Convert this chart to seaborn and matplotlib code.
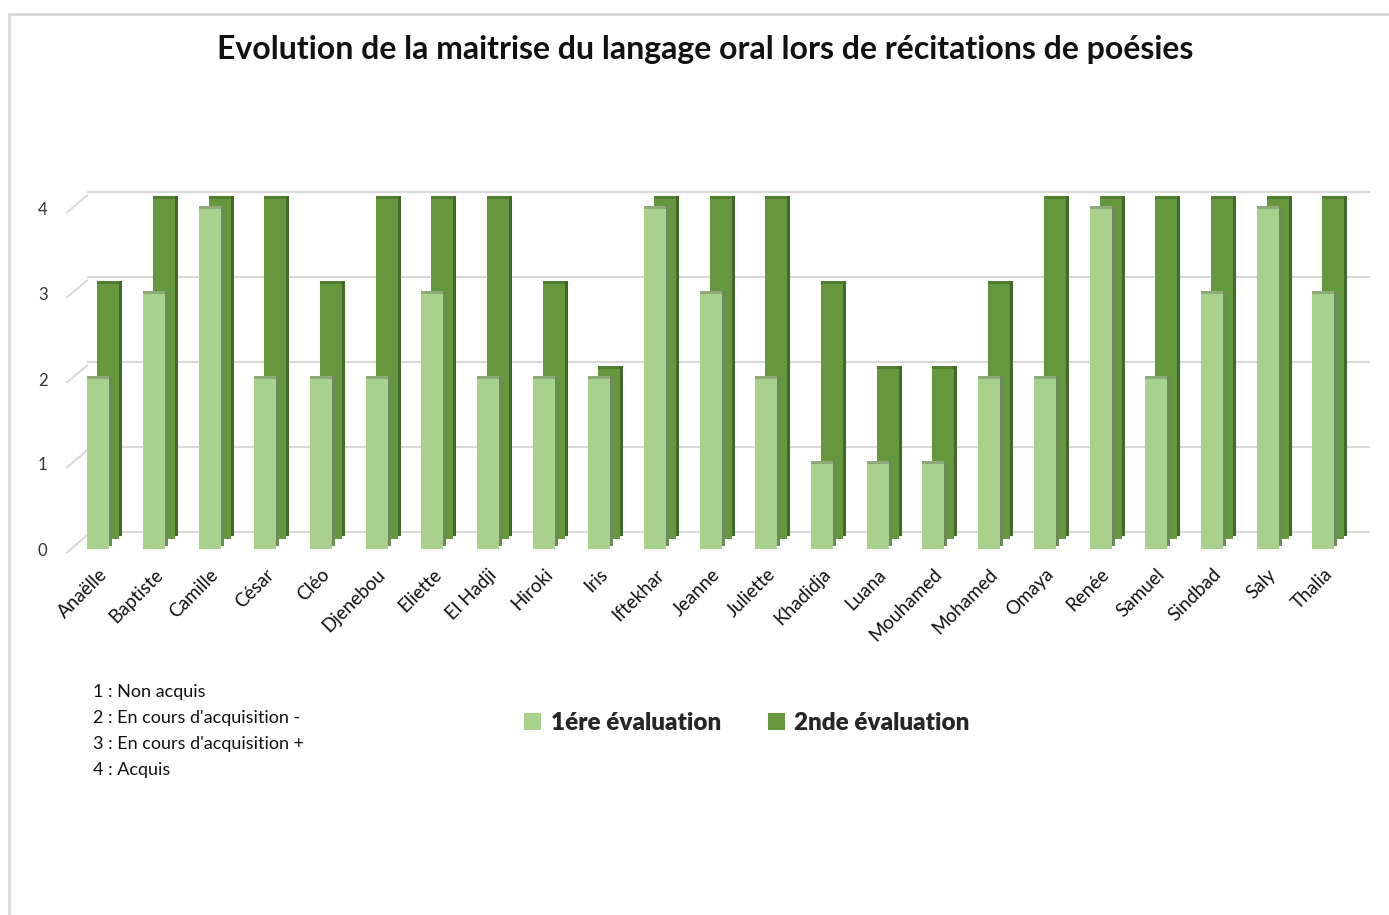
import numpy as np
import pandas as pd
import matplotlib
matplotlib.use("Agg")
import matplotlib.pyplot as plt
import matplotlib.transforms as mtransforms
from matplotlib.lines import Line2D
from matplotlib.patches import Patch
import seaborn as sns

# data
eleves = ["Anaëlle", "Baptiste", "Camille", "César", "Cléo", "Djenebou", "Eliette",
          "El Hadji", "Hiroki", "Iris", "Iftekhar", "Jeanne", "Juliette", "Khadidja",
          "Luana", "Mouhamed", "Mohamed", "Omaya", "Renée", "Samuel", "Sindbad",
          "Saly", "Thalia"]
eval1 = [2, 3, 4, 2, 2, 2, 3, 2, 2, 2, 4, 3, 2, 1, 1, 1, 2, 2, 4, 2, 3, 4, 3]
eval2 = [3, 4, 4, 4, 3, 4, 4, 4, 3, 2, 4, 4, 4, 3, 2, 2, 3, 4, 4, 4, 4, 4, 4]
yticks = [0, 1, 2, 3, 4]
niveaux = ["1 : Non acquis", "2 : En cours d'acquisition -",
           "3 : En cours d'acquisition +", "4 : Acquis"]
series = ["1ére évaluation", "2nde évaluation"]

df = pd.DataFrame({"eleve": eleves, "eval1": eval1, "eval2": eval2})

sns.set_style("white")
plt.rcParams["font.family"] = ["Lato", "DejaVu Sans"]

fig = plt.figure(figsize=(13.89, 9.15), dpi=100)
ax = fig.add_axes([67 / 1389, 1 - 549 / 915, (1350 - 67) / 1389, 340 / 915])

W = 0.395
light, light_side, light_top = "#A9D18E", "#6E8A5B", "#8DAA78"
dark, dark_side, dark_top = "#65983D", "#41692A", "#4F7E31"


def bars(col, color, dx, dy, z):
    sns.barplot(data=df, x="eleve", y=col, color=color, width=W, saturation=1,
                errorbar=None, ax=ax, zorder=z, linewidth=0)
    tr = mtransforms.offset_copy(ax.transData, fig=fig, x=dx, y=dy, units="dots")
    for p in ax.containers[-1]:
        p.set_transform(tr)
        p.set_clip_on(False)


# back series (2nde) pushed back in depth, front series (1ere)
bars("eval2", dark_side, 13, 13, 1.0)
bars("eval2", dark_top, 10, 13, 1.1)
bars("eval2", dark, 10, 10, 1.2)
bars("eval1", light_side, 3, 3, 2.0)
bars("eval1", light_top, 0, 3, 2.1)
bars("eval1", light, 0, 0, 2.2)

x0, x1 = -0.56, 22.48
ax.set_xlim(x0, x1)
ax.set_ylim(0, 4)

# back wall gridlines and floor/side diagonals
back = mtransforms.offset_copy(ax.transData, fig=fig, x=20, y=17, units="dots")
ax.hlines(yticks, x0, x1, colors="#D9D9D9", linewidth=1.5, transform=back,
          zorder=0.5, clip_on=False)
ddx, ddy = 20 / 55.7, 17 / 85
for k in yticks:
    ax.plot([x0, x0 + ddx], [k - 0.04, k - 0.04 + ddy], color="#D9D9D9",
            linewidth=1.5, zorder=0.5, clip_on=False)

for s in ax.spines.values():
    s.set_visible(False)
ax.set_yticks(yticks)
ax.set_yticklabels([str(t) for t in yticks], fontsize=12, color="#333333")
ax.tick_params(axis="y", length=0, pad=14)
ax.tick_params(axis="x", length=0, pad=12)
ax.set_xticks(range(len(eleves)))
ax.set_xticklabels(eleves, rotation=45, ha="right", rotation_mode="anchor",
                   fontsize=13.5, color="#111111")
ax.set_xlabel("")
ax.set_ylabel("")
ax.set_facecolor("none")

fig.text(705 / 1389, 1 - 50 / 915,
         "Evolution de la maitrise du langage oral lors de récitations de poésies",
         ha="center", va="center", fontsize=23, fontweight="bold", color="#111111")

for i, t in enumerate(niveaux):
    fig.text(93 / 1389, 1 - (692 + 26 * i) / 915, t, ha="left", va="center",
             fontsize=13, color="#111111")

handles = [Patch(facecolor=light, edgecolor="none"), Patch(facecolor=dark, edgecolor="none")]
fig.legend(handles, series, loc="center", bbox_to_anchor=(747 / 1389, 1 - 723 / 915),
           ncol=2, frameon=False, prop={"size": 17.5, "weight": "heavy"},
           handlelength=0.7, handleheight=0.7, handletextpad=0.4, columnspacing=1.9)

# chart border
fig.add_artist(Line2D([9 / 1389, 1], [1 - 14 / 915, 1 - 14 / 915], color="#D9D9D9",
                      linewidth=2, transform=fig.transFigure))
fig.add_artist(Line2D([9 / 1389, 9 / 1389], [0, 1 - 14 / 915], color="#D9D9D9",
                      linewidth=2, transform=fig.transFigure))

fig.savefig("out.png", dpi=100, facecolor="white")
